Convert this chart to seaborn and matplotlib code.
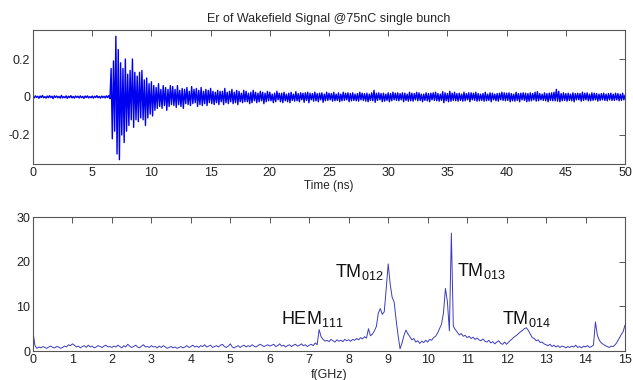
import numpy as np
import pandas as pd
import seaborn as sns
import matplotlib
matplotlib.use("Agg")
import matplotlib.pyplot as plt

# wakefield signal, one sample every 0.1 ns, in units of 1e-3
t_step = 0.1
er_milli = [
    3, -5, 6, -2, 4, -7, 5, -3, 8, -4,
    2, -6, 5, -4, 7, -3, 4, -8, 6, -2,
    5, -4, 3, -6, 8, -5, 2, -4, 6, -7,
    4, -3, 7, -5, 3, -6, 5, -2, 4, -5,
    6, -4, 3, -7, 5, -3, 6, -5, 2, -4,
    5, -6, 4, -3, 7, -4, 3, -6, 5, -3,
    4, -5, 6, -3, 7, -9, 150, -220, 190, -180,
    320, -300, 250, -330, 180, -200, 150, -240, 200, -180,
    120, -150, 140, -120, 200, -160, 130, -120, 110, -130,
    130, -110, 140, -120, 90, -150, 100, -110, 70, -90,
    80, -100, 60, -70, 50, -60, 70, -50, 40, -60,
    60, -45, 50, -70, 40, -50, 60, -40, 55, -45,
    40, -55, 60, -40, 35, -50, 45, -60, 40, -35,
    50, -40, 30, -45, 55, -35, 40, -30, 45, -50,
    35, -40, 50, -45, 30, -35, 40, -45, 35, -30,
    45, -35, 30, -40, 25, -30, 35, -40, 30, -25,
    30, -40, 45, -30, 25, -35, 30, -25, 40, -35,
    25, -30, 35, -40, 30, -25, 20, -30, 35, -25,
    30, -25, 20, -35, 25, -30, 35, -20, 25, -30,
    20, -25, 30, -20, 25, -35, 20, -25, 30, -20,
    25, -20, 15, -30, 20, -25, 30, -15, 20, -25,
    20, -30, 25, -20, 15, -25, 20, -30, 25, -18,
    15, -22, 28, -20, 18, -25, 22, -15, 20, -28,
    22, -18, 25, -30, 20, -15, 18, -22, 26, -20,
    18, -25, 20, -15, 22, -28, 15, -20, 25, -18,
    20, -15, 18, -22, 25, -20, 15, -18, 22, -25,
    15, -20, 25, -18, 20, -15, 22, -25, 18, -20,
    22, -18, 15, -20, 18, -22, 25, -15, 20, -18,
    18, -22, 20, -25, 15, -18, 22, -20, 35, -28,
    20, -18, 22, -15, 18, -25, 20, -22, 15, -18,
    22, -25, 18, -20, 25, -15, 20, -18, 22, -20,
    18, -15, 22, -25, 20, -18, 15, -22, 25, -20,
    20, -22, 18, -15, 25, -20, 22, -18, 15, -25,
    15, -18, 22, -20, 18, -25, 20, -15, 22, -18,
    25, -20, 18, -22, 15, -18, 28, -30, 22, -20,
    18, -25, 30, -22, 20, -18, 25, -20, 18, -22,
    20, -18, 15, -22, 25, -20, 18, -15, 22, -25,
    22, -15, 20, -18, 25, -22, 18, -20, 15, -18,
    18, -22, 25, -20, 15, -18, 22, -25, 20, -15,
    15, -20, 18, -22, 20, -15, 25, -18, 22, -20,
    20, -18, 22, -25, 18, -20, 15, -22, 25, -18,
    18, -25, 20, -15, 22, -18, 20, -25, 18, -22,
    22, -20, 18, -15, 25, -22, 28, -20, 18, -15,
    15, -18, 22, -20, 18, -25, 20, -18, 22, -20,
    25, -20, 40, -22, 30, -25, 18, -20, 22, -18,
    18, -22, 20, -18, 15, -20, 22, -25, 18, -15,
    20, -15, 18, -22, 25, -18, 20, -15, 22, -20,
    15, -20, 22, -18, 20, -15, 18, -22, 15, -18,
    18, -15, 20, -18, 15, -20, 18, -15, 20, -18,
    15, -18, 20, -15, 18, -20, 15, -18, 20, -15,
    10,
]

# spectrum magnitude, one sample every 0.05 GHz
f_step = 0.05
spectrum = [
    4.3, 1.2, 0.6, 0.9, 0.7, 1.0, 0.8, 0.6, 0.9, 1.1, 0.8, 0.7, 1.0, 0.9, 0.6, 0.8, 1.1, 0.9, 1.4, 1.2,
    1.6, 1.3, 0.9, 1.1, 0.7, 1.0, 1.2, 0.8, 1.3, 0.9, 1.1, 0.7, 0.9, 1.2, 1.0, 0.8, 1.1, 1.3, 0.9, 1.0,
    0.8, 1.1, 0.9, 1.3, 1.0, 0.7, 1.2, 0.9, 1.5, 1.1, 0.8, 1.0, 1.3, 0.9, 0.7, 1.1, 1.4, 0.9, 1.0, 0.8,
    1.2, 0.9, 1.0, 0.7, 1.1, 0.8, 1.2, 0.9, 0.6, 0.8, 1.0, 0.7, 0.9, 0.6, 0.8, 1.0, 0.7, 0.9, 1.2, 0.8,
    1.0, 1.3, 0.9, 1.1, 0.8, 1.2, 1.0, 1.4, 0.9, 1.1, 1.3, 0.8, 1.0, 1.2, 0.9, 1.3, 1.5, 1.0, 0.8, 1.1,
    1.6, 0.9, 0.7, 1.0, 1.2, 0.8, 1.1, 1.3, 0.9, 1.2, 1.0, 1.4, 1.1, 0.9, 1.2, 1.5, 1.3, 1.0, 1.2, 1.4,
    1.1, 1.3, 1.5, 1.0, 1.2, 1.6, 1.1, 1.3, 0.9, 1.2, 1.4, 1.0, 1.3, 1.5, 1.1, 1.3, 1.6, 1.2, 1.4, 1.0,
    1.3, 1.5, 1.2, 1.8, 1.4, 4.8, 3.2, 2.6, 2.2, 2.4, 2.1, 2.6, 2.3, 2.0, 2.5, 2.2, 2.4, 2.1, 2.6, 2.3,
    2.5, 2.2, 2.6, 2.4, 2.8, 2.5, 3.0, 2.7, 3.2, 2.9, 5.0, 3.4, 3.8, 4.5, 5.5, 8.5, 9.5, 8.2, 8.8, 14.0,
    19.5, 15.0, 12.0, 11.0, 7.0, 3.5, 0.5, 1.8, 3.5, 4.7, 3.8, 3.2, 2.5, 2.8, 2.0, 2.3, 1.7, 2.2, 1.9, 2.4,
    2.0, 2.6, 2.4, 3.0, 3.3, 4.0, 5.0, 6.0, 8.5, 14.0, 11.0, 4.5, 26.4, 5.5, 4.8, 4.2, 3.6, 3.9, 3.3, 3.5,
    3.0, 3.3, 2.8, 3.1, 2.6, 2.9, 2.5, 2.3, 2.7, 2.2, 2.0, 2.4, 1.8, 2.1, 1.6, 2.0, 2.3, 1.7, 1.5, 2.0,
    1.5, 2.0, 2.4, 2.8, 3.2, 3.5, 3.9, 4.3, 4.6, 5.0, 5.2, 4.6, 3.8, 3.0, 2.8, 2.3, 2.5, 1.9, 2.0, 1.6,
    1.4, 1.2, 1.5, 1.0, 1.3, 0.9, 1.2, 0.8, 1.1, 1.0, 0.7, 1.0, 0.8, 1.1, 0.9, 1.3, 0.8, 1.0, 0.7, 1.1,
    0.9, 1.2, 0.8, 1.0, 1.3, 6.5, 3.5, 2.4, 1.8, 1.5, 1.2, 1.0, 0.8, 1.1, 1.0, 1.4, 2.0, 2.8, 3.6, 4.3,
    5.8,
]

mode_labels = ["HEM$_{111}$", "TM$_{012}$", "TM$_{013}$", "TM$_{014}$"]
mode_f = [7.08, 8.28, 11.37, 12.5]
mode_y = [7.2, 17.7, 17.9, 7.2]

sig = pd.DataFrame({"t": np.arange(len(er_milli)) * t_step,
                    "er": np.array(er_milli) / 1000.0})
spec = pd.DataFrame({"f": np.arange(len(spectrum)) * f_step, "amp": spectrum})

sns.set_style("white")
plt.rcParams["font.family"] = ["Liberation Sans", "DejaVu Sans"]
plt.rcParams["mathtext.default"] = "regular"

fig = plt.figure(figsize=(6.33, 3.80), dpi=100)
ax1 = fig.add_axes([0.0521, 0.5684, 0.9353, 0.3527])
ax2 = fig.add_axes([0.0521, 0.0763, 0.9353, 0.3526])

sns.lineplot(data=sig, x="t", y="er", ax=ax1, color="#0000f0", linewidth=1.0)
sns.lineplot(data=spec, x="f", y="amp", ax=ax2, color="#3c3cbc", linewidth=0.7)

ax1.set_xlim(0, 50)
ax1.set_ylim(-0.353, 0.353)
ax1.set_xticks(range(0, 51, 5))
ax1.set_yticks([-0.2, 0, 0.2])
ax1.set_yticklabels(["-0.2", "0", "0.2"])
ax1.set_xlabel("Time (ns)", fontsize=8.5, labelpad=1)
ax1.set_ylabel("")
ax1.set_title("Er of Wakefield Signal @75nC single bunch", fontsize=9, pad=6)

ax2.set_xlim(0, 15)
ax2.set_ylim(0, 30)
ax2.set_xticks(range(0, 16))
ax2.set_yticks([0, 10, 20, 30])
ax2.set_xlabel("f(GHz)", fontsize=9, labelpad=2)
ax2.set_ylabel("")

for lab, fx, fy in zip(mode_labels, mode_f, mode_y):
    ax2.text(fx, fy, lab, fontsize=13, ha="center", va="center", color="#111111")

for ax in (ax1, ax2):
    for sp in ax.spines.values():
        sp.set_color("#555555")
        sp.set_linewidth(0.8)
    ax.tick_params(direction="in", length=4, width=0.7, color="#555555",
                   top=True, right=True, labelsize=9, pad=2, labelcolor="#222222")

fig.savefig("out.png", dpi=100)
